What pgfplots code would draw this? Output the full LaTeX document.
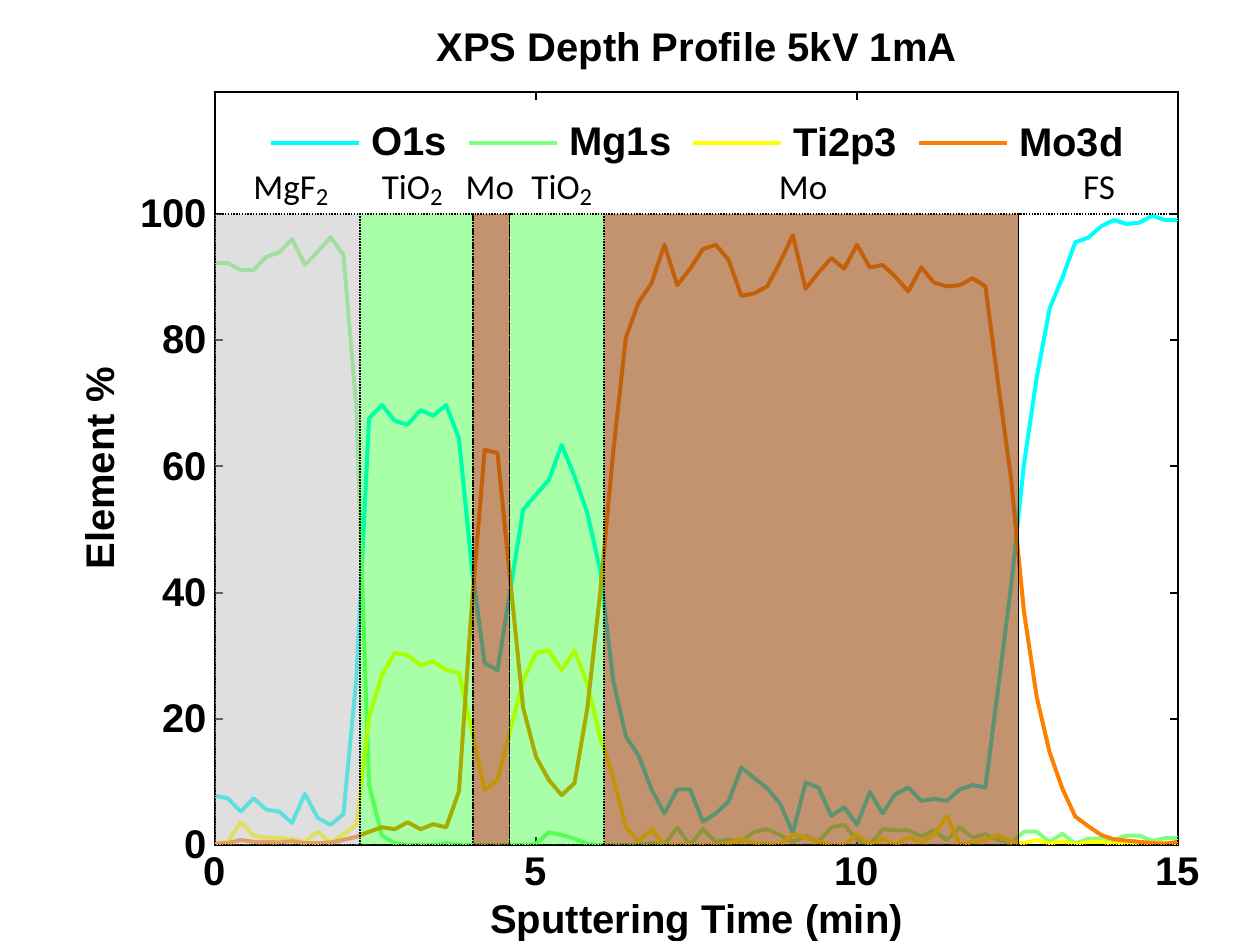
\documentclass[border=0pt]{standalone}
\usepackage{pgfplots}
\usepackage{pgfplotstable}
\pgfplotsset{compat=1.18}
\usepackage{fontspec}
\setmainfont{Liberation Sans}
\newfontfamily\calib{Carlito}

\definecolor{cO}{RGB}{0,255,255}
\definecolor{cMg}{RGB}{128,255,128}
\definecolor{cTi}{RGB}{255,255,0}
\definecolor{cMo}{RGB}{255,128,0}
\definecolor{ovGray}{RGB}{192,192,192}
\definecolor{ovGreen}{RGB}{0,255,0}
\definecolor{ovBrown}{RGB}{155,75,17}

\pgfplotstableread{
x O Mg Ti Mo
0.0 7.8 92.2 0.2 0.2
0.2 7.4 92.2 0.5 0.3
0.4 5.3 91.1 3.6 0.8
0.6 7.4 91.1 1.5 0.5
0.8 5.6 93.2 1.2 0.5
1.0 5.3 93.9 1.1 0.4
1.2 3.5 96.0 0.9 0.6
1.4 8.1 91.9 0.5 0.3
1.6 4.3 94.0 2.1 0.3
1.8 3.2 96.3 0.4 0.4
2.0 4.9 93.5 1.7 0.8
2.2 26.1 69.5 3.2 1.3
2.4 67.6 9.5 20.3 2.1
2.6 69.7 1.5 26.9 2.8
2.8 67.2 0.3 30.4 2.5
3.0 66.6 0.0 30.1 3.6
3.2 68.9 0.0 28.5 2.5
3.4 68.0 0.0 29.1 3.3
3.6 69.7 0.3 27.7 2.8
3.8 64.4 0.0 27.3 8.5
4.0 44.0 0.0 18.0 38.0
4.2 28.8 0.0 8.7 62.6
4.4 27.7 0.0 10.3 62.1
4.6 40.4 0.0 18.2 41.9
4.8 53.1 0.0 26.1 21.7
5.0 55.5 0.2 30.4 14.0
5.2 57.8 2.0 30.8 10.3
5.4 63.4 1.6 27.7 7.9
5.6 58.4 1.0 30.8 9.8
5.8 52.6 0.2 25.5 21.7
6.0 43.5 0.0 17.0 40.0
6.2 26.2 0.0 10.8 62.0
6.4 17.2 0.0 2.8 80.4
6.6 14.1 0.0 0.5 86.0
6.8 8.8 0.3 2.5 89.0
7.0 5.0 0.0 0.0 95.1
7.2 8.8 2.8 0.0 88.7
7.4 8.8 0.0 0.0 91.3
7.6 3.7 2.5 0.0 94.4
7.8 5.0 0.5 0.0 95.1
8.0 6.9 0.8 0.3 92.7
8.2 12.3 0.6 1.0 87.0
8.4 10.6 2.1 0.2 87.4
8.6 9.0 2.5 0.2 88.5
8.8 6.6 1.6 0.0 92.3
9.0 1.9 0.5 1.7 96.6
9.2 9.9 1.4 1.2 88.1
9.4 9.1 0.5 0.5 90.7
9.6 4.6 2.8 0.0 93.0
9.8 6.0 3.2 0.0 91.3
10.0 3.2 0.8 1.7 95.1
10.2 8.4 0.0 0.0 91.5
10.4 5.0 2.5 1.0 91.9
10.6 8.1 2.3 0.0 90.0
10.8 9.1 2.3 1.2 87.7
11.0 7.0 1.4 0.5 91.5
11.2 7.3 2.3 1.6 89.1
11.4 7.0 0.8 4.6 88.5
11.6 8.8 2.8 0.0 88.7
11.8 9.5 1.2 0.5 89.8
12.0 9.1 1.7 0.8 88.5
12.2 25.0 0.8 1.6 73.0
12.4 41.0 0.3 0.5 58.0
12.6 60.3 2.1 0.3 37.0
12.8 74.1 2.1 0.8 23.4
13.0 85.0 0.5 0.2 14.7
13.2 89.9 1.8 0.6 8.9
13.4 95.5 0.2 0.1 4.5
13.6 96.2 1.0 0.5 3.0
13.8 98.0 1.0 0.5 1.6
14.0 99.0 0.8 0.2 0.9
14.2 98.4 1.5 0.3 0.7
14.4 98.6 1.5 0.2 0.5
14.6 99.7 0.6 0.3 0.3
14.8 99.0 1.1 0.3 0.2
15.0 99.0 1.1 0.2 0.5
}\data

\begin{document}
\begin{tikzpicture}
\begin{axis}[
  width=481.5pt, height=376.5pt, scale only axis,
  xmin=0, xmax=15, ymin=0, ymax=119.3,
  xtick={0,5,10,15}, ytick={0,20,40,60,80,100},
  tick align=inside, major tick length=4pt,
  axis line style={line width=1.2pt},
  every tick/.style={black, line width=1pt},
  /pgf/number format/assume math mode=true,
  ticklabel style={font=\bfseries\fontsize{20}{24}\selectfont},
  xticklabel style={yshift=-3pt},
  yticklabel style={xshift=-0.5pt},
  title={XPS Depth Profile 5kV 1mA},
  title style={font=\bfseries\fontsize{20}{24}\selectfont, at={(0.5,1)}, anchor=base, yshift=9pt},
  xlabel={Sputtering Time (min)},
  ylabel={Element \%},
  every axis x label/.style={at={(axis description cs:0.5,0)}, anchor=center, yshift=-39pt, font=\bfseries\fontsize{20}{24}\selectfont},
  every axis y label/.style={at={(axis description cs:-0.1194,0.5)}, anchor=center, rotate=90, font=\bfseries\fontsize{20}{24}\selectfont},
  legend columns=4,
  legend style={draw=none, fill=none, at={(0.5,0.932)}, anchor=center,
    font=\bfseries\fontsize{20}{24}\selectfont,
    nodes={inner sep=0pt},
    /tikz/every odd column/.append style={column sep=5pt},
    /tikz/every even column/.append style={column sep=10pt}},
  legend image code/.code={\draw[#1, line width=2pt] (0pt,0pt) -- (44pt,0pt);},
  every axis plot/.append style={no markers, line width=2pt, line join=round},
]
\addplot[cO] table[x=x, y=O]{\data};
\addlegendentry{O1s}
\addplot[cMg] table[x=x, y=Mg]{\data};
\addlegendentry{Mg1s}
\addplot[cTi] table[x=x, y=Ti]{\data};
\addlegendentry{Ti2p3}
\addplot[cMo] table[x=x, y=Mo]{\data};
\addlegendentry{Mo3d}

% layer overlays
\addplot[forget plot, line width=0.7pt, draw=black, dash pattern=on 0.7pt off 0.7pt, fill=ovGray, fill opacity=0.5] coordinates {(0,0) (0,100) (2.26,100) (2.26,0)} -- cycle;
\addplot[forget plot, line width=0.7pt, draw=black, dash pattern=on 0.7pt off 0.7pt, fill=ovGreen, fill opacity=0.34] coordinates {(2.26,0) (2.26,100) (4.02,100) (4.02,0)} -- cycle;
\addplot[forget plot, line width=0.7pt, draw=black, dash pattern=on 0.7pt off 0.7pt, fill=ovBrown, fill opacity=0.6] coordinates {(4.02,0) (4.02,100) (4.59,100) (4.59,0)} -- cycle;
\addplot[forget plot, line width=0.7pt, draw=black, dash pattern=on 0.7pt off 0.7pt, fill=ovGreen, fill opacity=0.34] coordinates {(4.59,0) (4.59,100) (6.06,100) (6.06,0)} -- cycle;
\addplot[forget plot, line width=0.7pt, draw=black, dash pattern=on 0.7pt off 0.7pt, fill=ovBrown, fill opacity=0.6] coordinates {(6.06,0) (6.06,100) (12.52,100) (12.52,0)} -- cycle;
\addplot[forget plot, line width=0.7pt, draw=black, dash pattern=on 0.7pt off 0.7pt] coordinates {(12.52,0) (12.52,100) (15,100) (15,0)} -- cycle;

% layer labels
\node[font=\calib\fontsize{17.5}{20}\selectfont, anchor=base] at (axis cs:1.19,102.2) {MgF\textsubscript{2}};
\node[font=\calib\fontsize{17.5}{20}\selectfont, anchor=base] at (axis cs:3.08,102.2) {TiO\textsubscript{2}};
\node[font=\calib\fontsize{17.5}{20}\selectfont, anchor=base] at (axis cs:4.28,102.2) {Mo};
\node[font=\calib\fontsize{17.5}{20}\selectfont, anchor=base] at (axis cs:5.41,102.2) {TiO\textsubscript{2}};
\node[font=\calib\fontsize{17.5}{20}\selectfont, anchor=base] at (axis cs:9.16,102.2) {Mo};
\node[font=\calib\fontsize{17.5}{20}\selectfont, anchor=base] at (axis cs:13.77,102.2) {FS};
\end{axis}
\pgfresetboundingbox
\path[use as bounding box] ([xshift=-107.5pt,yshift=-48pt]current axis.south west) rectangle ([xshift=37.5pt,yshift=46pt]current axis.north east);
\end{tikzpicture}
\end{document}
